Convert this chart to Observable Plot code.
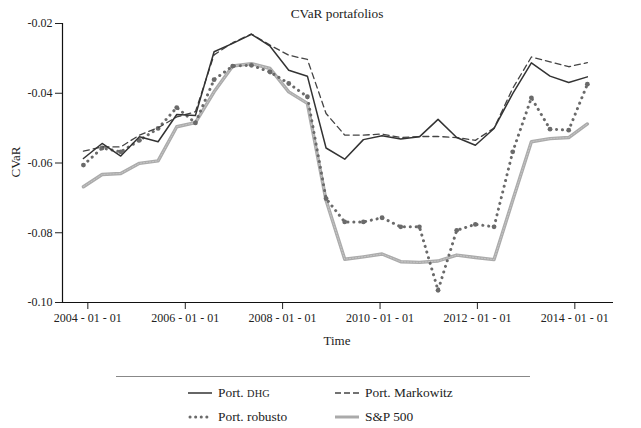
<!DOCTYPE html>
<html>
<head>
<meta charset="utf-8">
<script src="https://cdn.jsdelivr.net/npm/d3@7"></script>
<script src="https://cdn.jsdelivr.net/npm/@observablehq/plot@0.6"></script>
<style>
  html, body { margin: 0; padding: 0; background: #fff; }
  #wrap { position: relative; width: 641px; height: 428px; font-family: "Liberation Serif", serif; color: #222; overflow: hidden; }
  #wrap svg.chart { position: absolute; left: 0; top: 0; }
  .lbl { position: absolute; transform: translate(-50%, -50%); white-space: nowrap; }
  .leg { position: absolute; font-size: 13.4px; white-space: nowrap; display: flex; align-items: center; transform: translateY(-50%); }
  .leg svg { margin-right: 5px; }
  .sc { font-size: 10.3px; letter-spacing: 0.2px; }
</style>
</head>
<body>
<div id="wrap"></div>
<script>
// ---- data ----
const dates = ["2003-11-29","2004-04-17","2004-09-04","2005-01-22","2005-06-11","2005-10-29",
  "2006-03-18","2006-08-05","2006-12-23","2007-05-12","2007-09-29","2008-02-16","2008-07-05",
  "2008-11-22","2009-04-11","2009-08-29","2010-01-16","2010-06-05","2010-10-23","2011-03-12",
  "2011-07-30","2011-12-17","2012-05-05","2012-09-22","2013-02-09","2013-06-29","2013-11-16","2014-04-05"];
const dhg = [-0.0587,-0.0544,-0.0580,-0.0525,-0.0539,-0.0461,-0.0464,-0.0281,-0.0257,-0.0231,-0.0265,-0.0334,-0.0351,
  -0.0557,-0.0589,-0.0533,-0.0522,-0.0531,-0.0525,-0.0475,-0.0527,-0.0549,-0.0501,-0.0401,-0.0313,-0.0351,-0.0369,-0.0353];
const markowitz = [-0.0566,-0.0554,-0.0554,-0.0520,-0.0499,-0.0468,-0.0453,-0.0290,-0.0255,-0.0230,-0.0262,-0.0291,-0.0303,
  -0.0458,-0.0520,-0.0520,-0.0517,-0.0527,-0.0524,-0.0524,-0.0527,-0.0535,-0.0500,-0.0386,-0.0296,-0.0310,-0.0324,-0.0312];
const robusto = [-0.0606,-0.0557,-0.0568,-0.0535,-0.0501,-0.0441,-0.0485,-0.0361,-0.0322,-0.0320,-0.0339,-0.0372,-0.0410,
  -0.0702,-0.0769,-0.0769,-0.0757,-0.0783,-0.0783,-0.0965,-0.0793,-0.0776,-0.0783,-0.0568,-0.0413,-0.0503,-0.0506,-0.0374];
const sp500 = [-0.0668,-0.0633,-0.0630,-0.0601,-0.0594,-0.0496,-0.0484,-0.0396,-0.0322,-0.0315,-0.0329,-0.0396,-0.0429,
  -0.0707,-0.0876,-0.0869,-0.0861,-0.0883,-0.0885,-0.0881,-0.0864,-0.0871,-0.0877,-0.0707,-0.0539,-0.0530,-0.0527,-0.0488];
const xTicks = ["2004-01-01","2006-01-01","2008-01-01","2010-01-01","2012-01-01","2014-01-01"];
const yTicks = [-0.10,-0.08,-0.06,-0.04,-0.02];
const seriesNames = ["Port. DHG","Port. Markowitz","Port. robusto","S&P 500"];

// ---- build ----
const toRows = arr => dates.map((d, i) => ({date: new Date(d), v: arr[i]}));
const xDomain = [new Date("2003-06-25"), new Date("2014-10-18")];

const chart = Plot.plot({
  width: 641,
  height: 360,
  marginLeft: 62,
  marginRight: 28,
  marginTop: 23,
  marginBottom: 58,
  style: {fontFamily: "'Liberation Serif', serif", fontSize: "12px", color: "#222", background: "transparent", overflow: "visible"},
  x: {type: "utc", domain: xDomain, ticks: xTicks.map(d => new Date(d)),
      tickFormat: d3.utcFormat("%Y - %m - %d"), tickSize: 7, tickPadding: 4, label: null},
  y: {domain: [-0.10, -0.02], ticks: yTicks, tickFormat: d => d.toFixed(2),
      tickSize: 7, tickPadding: 3, label: null},
  marks: [
    Plot.ruleX([xDomain[0]], {stroke: "#111", strokeWidth: 1.2}),
    Plot.ruleY([-0.10], {stroke: "#111", strokeWidth: 1.2}),
    Plot.line(toRows(sp500), {x: "date", y: "v", stroke: "#ababab", strokeWidth: 3.4}),
    Plot.line(toRows(sp500), {x: "date", y: "v", stroke: "#c6c6c6", strokeWidth: 1, strokeDasharray: "1.5 1.5"}),
    Plot.line(toRows(robusto), {x: "date", y: "v", stroke: "#6a6a6a", strokeWidth: 3, strokeDasharray: "0.1 5.8", strokeLinecap: "round"}),
    Plot.dot(toRows(robusto), {x: "date", y: "v", fill: "#6a6a6a", r: 2.4}),
    Plot.line(toRows(markowitz), {x: "date", y: "v", stroke: "#444", strokeWidth: 1.3, strokeDasharray: "6 4"}),
    Plot.line(toRows(dhg), {x: "date", y: "v", stroke: "#333", strokeWidth: 1.5})
  ]
});
chart.classList.add("chart");
const wrap = document.getElementById("wrap");
wrap.appendChild(chart);

function addLabel(text, x, y, css) {
  const d = document.createElement("div");
  d.className = "lbl";
  d.textContent = text;
  d.style.left = x + "px";
  d.style.top = y + "px";
  Object.assign(d.style, css || {});
  wrap.appendChild(d);
}
addLabel("CVaR portafolios", 337, 14, {fontSize: "13.3px"});
addLabel("Time", 337, 341, {fontSize: "13px"});
addLabel("CVaR", 16, 162, {fontSize: "13px", transform: "translate(-50%, -50%) rotate(-90deg)"});

// legend rule
const rule = document.createElement("div");
Object.assign(rule.style, {position: "absolute", left: "116px", top: "376px", width: "414px", height: "0", borderTop: "1px solid #888"});
wrap.appendChild(rule);

function swatch(kind) {
  const ns = "http://www.w3.org/2000/svg";
  const s = document.createElementNS(ns, "svg");
  s.setAttribute("width", 26); s.setAttribute("height", 8);
  const l = document.createElementNS(ns, "line");
  l.setAttribute("x1", 1); l.setAttribute("x2", 25); l.setAttribute("y1", 4); l.setAttribute("y2", 4);
  if (kind === 0) { l.setAttribute("stroke", "#333"); l.setAttribute("stroke-width", 1.5); }
  if (kind === 1) { l.setAttribute("stroke", "#444"); l.setAttribute("stroke-width", 1.3); l.setAttribute("stroke-dasharray", "6 3"); }
  if (kind === 2) { l.setAttribute("stroke", "#6a6a6a"); l.setAttribute("stroke-width", 3); l.setAttribute("stroke-dasharray", "0.1 5.5"); l.setAttribute("stroke-linecap", "round"); l.setAttribute("x1", 3); }
  if (kind === 3) { l.setAttribute("stroke", "#aaa"); l.setAttribute("stroke-width", 3); }
  s.appendChild(l);
  return s;
}
const legPos = [[187, 393], [334, 393], [187, 417], [334, 417]];
seriesNames.forEach((name, i) => {
  const d = document.createElement("div");
  d.className = "leg";
  d.style.left = legPos[i][0] + "px";
  d.style.top = legPos[i][1] + "px";
  d.appendChild(swatch(i));
  const t = document.createElement("span");
  if (name.endsWith("DHG")) {
    t.appendChild(document.createTextNode("Port. "));
    const sc = document.createElement("span");
    sc.className = "sc";
    sc.textContent = "DHG";
    t.appendChild(sc);
  } else {
    t.textContent = name;
  }
  d.appendChild(t);
  wrap.appendChild(d);
});
</script>
</body>
</html>
